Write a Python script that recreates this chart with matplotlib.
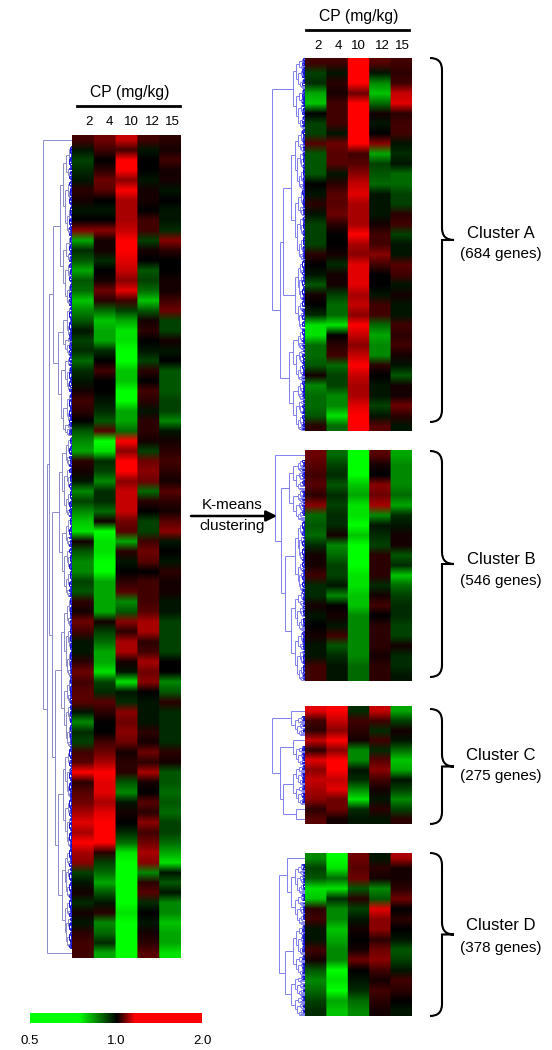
import numpy as np
import matplotlib
matplotlib.use('Agg')
import matplotlib.pyplot as plt
from matplotlib.collections import LineCollection
from matplotlib.colors import LinearSegmentedColormap
from matplotlib.patches import PathPatch
from matplotlib.path import Path

plt.rcParams['font.family'] = ['Liberation Sans', 'DejaVu Sans']

W, H = 552, 1050

doses = ['2', '4', '10', '12', '15']
bar_ticks = ['0.5', '1.0', '2.0']

# expression per band of genes, tenths of the colour scale (-10 green, +10 red)
all_genes = [
    [3, 5, 8, 3, 2], [-1, 3, 3, -1, 1], [-3, 0, 10, 0, 3], [-2, 2, 10, 0, 1], [-1, 5, 6, -1, 1],
    [2, 4, 10, 1, -1], [1, 0, 7, 1, 0], [-1, -1, 7, 0, -1], [0, 0, 7, 3, -1], [6, 6, 8, 3, -2],
    [-7, 1, 10, -3, 6], [-2, 1, 10, 1, 2], [-4, -2, 9, 0, 0], [-7, 0, 8, -4, 0], [-4, 1, 6, -3, 1],
    [-5, 5, 9, -5, 1], [-8, 2, 3, -8, 3], [-6, -5, -3, -4, 5], [-4, -8, -7, 1, -3], [-1, -7, -9, 2, -3],
    [-3, -7, -9, 0, 1], [-2, -2, -10, -1, -1], [-5, 0, -10, -3, 0],
    [-2, 3, -8, 2, -4], [-1, 0, -8, 0, -4], [1, 0, -10, 3, -4], [3, -1, -10, 2, -3], [2, -2, -7, -1, -3],
    [0, -4, -7, 2, -6], [-4, 4, -5, 2, -1], [-6, -10, 10, 1, 1], [-7, -9, 6, -3, 2], [2, -2, 10, 5, 3],
    [1, -3, 10, 6, 2], [-1, -6, 6, 5, 1], [-6, -2, 8, -5, 4], [-3, -2, 8, 2, 2], [-6, -5, 8, 0, 1],
    [-8, 1, 5, -3, 4], [-9, -10, 4, -3, 6], [1, -9, -7, 3, -1], [-4, -9, 2, 5, 0], [-6, -10, -1, 4, -1],
    [-6, -10, 0, 0, 2], [-3, -7, 2, 3, 1], [-4, -7, 4, 3, 1], [2, -7, -6, 3, -1], [1, -7, -4, 4, -1],
    [5, 1, 6, 7, -3], [3, -3, 2, 7, -3], [-1, -5, 7, 2, -3], [-1, -7, 7, 3, -3], [2, -7, 1, 7, 0],
    [5, -9, -1, 5, 0], [3, -3, -9, 6, -6], [4, -2, -1, 0, -4], [4, 4, -2, -1, 2], [-1, 2, 6, -1, -2],
    [-6, 0, 5, -1, -2], [-2, 0, 6, 2, -2], [-3, 3, 5, 1, -2], [3, 5, 1, 5, 2], [4, 7, 2, 2, 1],
    [10, 10, 2, 7, -4], [2, 9, -4, 1, -4], [4, 9, -6, 0, -5], [5, 7, -1, 4, -4], [7, 9, 1, 2, -5],
    [9, 10, 0, 6, -3], [7, 10, -2, 3, -3], [10, 10, -5, 5, -5], [7, 2, -9, 7, -7], [6, -3, -10, 6, -9],
    [-3, -5, -10, -6, -1], [-1, -7, -10, 2, -4], [1, -4, -10, 4, -1], [-2, -1, -10, -2, -6], [1, 2, -9, 0, -6],
    [-1, -6, -10, -1, -8], [2, -5, -10, 1, -7], [3, -2, -10, 2, -7], [3, -7, -10, 4, -9],
]
cluster_a = [
    [3, 3, 10, 4, 3], [-3, -1, 10, -1, 2], [-2, 2, 10, -6, 3], [-7, 1, 5, -8, 8], [-8, 3, 10, -5, 9],
    [0, 3, 10, 1, 2], [-3, 3, 10, -1, 3], [-3, -1, 10, 0, 3], [4, 5, 10, 6, -1], [-4, 4, 3, -7, -2],
    [-4, 4, 4, -3, -1], [-4, -1, 6, -4, -5], [0, 2, 8, -5, -5], [-1, 4, 9, -1, -3], [2, 4, 7, -1, -3],
    [-1, 5, 7, -1, 2], [-3, 2, 7, 1, 3], [-3, 0, 10, 3, -3], [-3, 0, 7, 3, -1], [2, 1, 6, 6, -1],
    [0, -2, 9, 3, 4], [-1, 1, 9, 0, 3], [-4, 1, 9, 0, -1], [1, -3, 7, -1, 1], [0, -5, 8, 3, -1],
    [-2, -5, 6, 3, -1], [-9, -9, 10, -5, 3], [-9, 0, 8, -7, 2], [-5, 2, 6, -6, 3], [-5, 3, 8, -6, 1],
    [-4, -5, 10, 2, -1], [1, -3, 8, 0, -4], [-6, -3, 7, -1, 1], [-5, -6, 7, -1, 1], [-5, -6, 9, -3, 5],
    [-4, -9, 10, -1, 2], [2, -5, 10, 4, -1],
]
cluster_b = [
    [5, -5, -10, 4, -7], [4, -3, -10, 1, -6], [3, -2, -10, 0, -6], [4, -4, -8, 6, -6], [2, -2, -7, 5, -5],
    [6, -3, -9, 7, -7], [-5, -2, -9, -6, -2], [-4, -2, -10, -1, -1], [-5, 1, -8, -2, 1], [-2, -6, -10, -3, 1],
    [1, -5, -10, 2, -4], [1, -3, -10, 2, -2], [3, -3, -9, 2, -8], [-2, -1, -9, -2, -5], [-2, -6, -8, 1, -3],
    [1, 0, -8, 3, -2], [-1, 1, -6, 0, -2], [0, -1, -6, 2, -3], [1, 3, -6, 2, -3], [-1, -4, -6, 2, 1],
    [-1, -2, -6, 1, -2], [3, -1, -5, 2, -2], [3, -1, -5, 2, -1],
]
cluster_c = [
    [9, 10, -2, 8, -7], [3, 8, 3, 3, -3], [2, 6, 2, -2, 1], [8, 10, 1, 3, -1], [2, 6, -6, -2, -5],
    [9, 10, -6, 4, -8], [6, 10, -1, 6, -7], [8, 8, -2, 3, -1], [7, 9, -6, 1, -3], [6, 5, -9, -1, -6],
    [2, 5, -2, 2, -3], [4, 1, -1, -1, 2],
]
cluster_d = [
    [-6, -10, 5, -1, 7], [-3, -9, 4, 2, 1], [-4, -5, 5, 1, 1], [-9, -9, -4, -6, 2], [-8, -2, 2, -4, 5],
    [2, -6, -3, 9, 0], [3, -6, -1, 6, 2], [-1, -8, 1, 6, 0], [-1, -7, 0, 2, -1], [3, -6, 1, 5, -4],
    [1, -6, 5, 6, -3], [-4, -10, 0, 3, -1], [-6, -9, -1, 1, 3], [-5, -10, -2, 3, 2], [-3, -7, -5, 2, 0],
    [-2, -8, -6, 1, -1],
]

# tree: (merge distance, upper, lower), an int is a branch holding that many bands
all_tree = (29, 1, (25, (23, (19, (12, 9, 7), 13),
                          (20, (13, 8, 8), (17, (11, 8, 7), (14, (9, 5, 5), (10, 5, 5))))), 1))
a_tree = (33, (12, 3, 4), (25, (22, (14, 6, 7), (10, 4, 3)), (16, 5, 5)))
b_tree = (30, 1, (24, (16, 3, 3), (20, (10, 4, 3), (14, 4, 5))))
c_tree = (33, (14, 1, 2), (25, (12, 1, 2), (22, (12, 2, 2), (9, 1, 1))))
d_tree = (26, (18, 1, (14, 3, 3)), (20, (12, 3, 2), (14, 2, 2)))

SPLITS = [0.38, 0.62, 0.45, 0.28, 0.7, 0.55]

# mid values sit darker than a straight green-black-red ramp
heat_cmap = LinearSegmentedColormap.from_list(
    'gbr', [(0, '#00ff00'), (0.25, '#006b00'), (0.5, '#000000'), (0.75, '#6b0000'), (1, '#ff0000')])
bar_cmap = LinearSegmentedColormap.from_list(
    'bar', [(0, '#00ff00'), (0.284, '#00ff00'), (0.506, '#000000'), (0.612, '#ff0000'), (1, '#ff0000')])

fig = plt.figure(figsize=(W / 100, H / 100), dpi=100)


def px_axes(x0, y0, x1, y1):
    ax = fig.add_axes([x0 / W, 1 - y1 / H, (x1 - x0) / W, (y1 - y0) / H])
    ax.axis('off')
    return ax


def fan(y0, y1, h, segs, depth=0):
    """fine branches next to the heatmap, too small to read one by one"""
    if y1 - y0 < 0.14 or h < 0.6:
        return (y0 + y1) / 2, 0
    mid = y0 + (y1 - y0) * SPLITS[depth % len(SPLITS)]
    ya, ha = fan(y0, mid, h * 0.62, segs, depth + 1)
    yb, hb = fan(mid, y1, h * 0.78, segs, depth + 2)
    segs += [[(h, ya), (h, yb)], [(ha, ya), (h, ya)], [(hb, yb), (h, yb)]]
    if ha > 0:
        segs.append([(0, ya), (ha * 0.4, ya)])
    return (ya + yb) / 2, h


def walk(node, state, parent_h, segs):
    if isinstance(node, int):
        y0 = state[0]
        state[0] += node
        if node == 1:
            return y0 + 0.5, 0
        return fan(y0, y0 + node, min(parent_h * 0.75, 8 + node * 1.4), segs)
    h, top, low = node
    ya, ha = walk(top, state, h, segs)
    yb, hb = walk(low, state, h, segs)
    segs += [[(h, ya), (h, yb)], [(ha, ya), (h, ya)], [(hb, yb), (h, yb)]]
    return (ya + yb) / 2, h


def panel(rows, tree, x0, x1, y0, y1, tree_w, color):
    rows = np.array(rows)
    ax = px_axes(x0, y0, x1, y1)
    # columns stay crisp, the bands blend into each other from top to bottom
    ax.imshow(np.repeat(rows, 30, axis=1), cmap=heat_cmap, vmin=-10, vmax=10,
              aspect='auto', interpolation='bilinear')

    dax = px_axes(x0 - tree_w, y0, x0, y1)
    segs = []
    walk(tree, [0], tree[0], segs)
    near = [s for s in segs if max(s[0][0], s[1][0]) < 3]
    far = [s for s in segs if max(s[0][0], s[1][0]) >= 3]
    dax.add_collection(LineCollection(far, colors=color, linewidths=0.7))
    dax.add_collection(LineCollection(near, colors='#1010d0', linewidths=0.7))
    dax.set_xlim(tree_w, 0)
    dax.set_ylim(len(rows), 0)


panel(all_genes, all_tree, 72, 181, 135, 958, 30, '#8a8ac8')
panel(cluster_a, a_tree, 305, 412, 58, 431, 34, '#7f7ff0')
panel(cluster_b, b_tree, 305, 412, 450, 681, 31, '#7f7ff0')
panel(cluster_c, c_tree, 305, 412, 706, 824, 34, '#7f7ff0')
panel(cluster_d, d_tree, 305, 412, 853, 1016, 27, '#7f7ff0')

# colour bar
cax = px_axes(30, 1013, 202, 1023)
cax.imshow(np.linspace(0, 1, 256)[None, :], cmap=bar_cmap, aspect='auto')

# everything else sits on one pixel-sized layer
top = px_axes(0, 0, W, H)
top.set_xlim(0, W)
top.set_ylim(H, 0)
top.patch.set_alpha(0)


def brace(x0, y0, y1, tip=24):
    """curly bracket opening to the left"""
    xm, ym = x0 + tip * 0.5, (y0 + y1) / 2
    r = 12
    verts = [(x0, y0), (xm, y0), (xm, y0 + r),
             (xm, ym - r), (xm, ym - r), (xm, ym), (x0 + tip, ym), (xm, ym),
             (xm, ym), (xm, ym + r), (xm, ym + r),
             (xm, y1 - r), (xm, y1), (x0, y1), (x0, y1)]
    codes = [Path.MOVETO, Path.CURVE3, Path.CURVE3,
             Path.LINETO, Path.LINETO, Path.CURVE3, Path.CURVE3, Path.LINETO,
             Path.LINETO, Path.CURVE3, Path.CURVE3,
             Path.LINETO, Path.CURVE3, Path.CURVE3, Path.LINETO]
    top.add_patch(PathPatch(Path(verts, codes), fill=False, edgecolor='black', linewidth=1.5))


def header(xc, y_title, y_line, x0, x1, y_labels, label_x):
    top.text(xc, y_title, 'CP (mg/kg)', fontsize=11.3, ha='center', va='center')
    top.plot([x0, x1], [y_line, y_line], color='black', linewidth=2)
    for x, d in zip(label_x, doses):
        top.text(x, y_labels, d, fontsize=9.5, ha='center', va='center')


header(130, 92, 106, 77, 180, 122, [89, 109, 131, 152, 172])
header(359, 16, 30, 306, 409, 46, [318, 338, 358, 382, 402])

top.annotate('', xy=(277, 516), xytext=(191, 516),
             arrowprops=dict(arrowstyle='-|>', color='black', linewidth=1.8, mutation_scale=16,
                             shrinkA=0, shrinkB=0))
top.text(232, 505, 'K-means', fontsize=11, ha='center', va='center')
top.text(232, 526, 'clustering', fontsize=11, ha='center', va='center')

brace(430, 58, 422)
brace(430, 451, 677)
brace(430, 709, 824)
brace(430, 853, 1016)

top.text(501, 233, 'Cluster A', fontsize=12, ha='center', va='center')
top.text(501, 254, '(684 genes)', fontsize=11, ha='center', va='center')
top.text(501, 560, 'Cluster B', fontsize=12, ha='center', va='center')
top.text(501, 581, '(546 genes)', fontsize=11, ha='center', va='center')
top.text(501, 755, 'Cluster C', fontsize=12, ha='center', va='center')
top.text(501, 776, '(275 genes)', fontsize=11, ha='center', va='center')
top.text(501, 926, 'Cluster D', fontsize=12, ha='center', va='center')
top.text(501, 948, '(378 genes)', fontsize=11, ha='center', va='center')

for x, t in zip([30, 116, 202], bar_ticks):
    top.text(x, 1041, t, fontsize=9.5, ha='center', va='center')

plt.savefig('out.png', dpi=100)
plt.close()
